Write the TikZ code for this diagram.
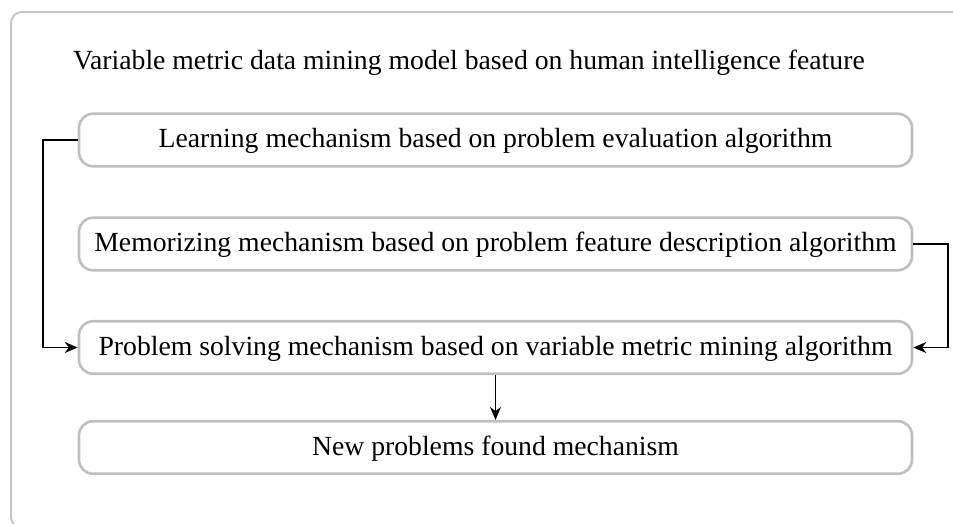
\documentclass[tikz,border=0pt]{standalone}
\usepackage{fontspec}
\setmainfont{Liberation Serif}
\usetikzlibrary{arrows.meta}
\begin{document}
\begin{tikzpicture}[x=1pt,y=-1pt,
  txt/.style={font=\fontsize{27.7}{32}\selectfont, inner sep=0pt},
  box/.style={txt, draw=black!25, line width=2.6pt, rounded corners=14pt,
    minimum width=833pt, minimum height=52.5pt, text height=19pt, text depth=4pt},
  conn/.style={draw=black, line width=1.6pt, -{Stealth[length=13pt,width=11pt]}}]
\useasboundingbox (0,0) rectangle (953,523);
\begin{scope}
\clip (0,0) rectangle (953,523);
\draw[draw=black!22, line width=2pt, rounded corners=11pt] (11,12) rectangle (1000,528);
\end{scope}
\node[txt, anchor=base west] (title) at (73,69) {Variable metric data mining model based on human intelligence feature};
\node[box] (b1) at (495.5,140) {Learning mechanism based on problem evaluation algorithm};
\node[box] (b2) at (495.5,244) {Memorizing mechanism based on problem feature description algorithm};
\node[box] (b3) at (495.5,347.5) {Problem solving mechanism based on variable metric mining algorithm};
\node[box] (b4) at (495.5,447.5) {New problems found mechanism};
\draw[conn] (b1.west) -- ++(-34.5,0) |- (b3.west);
\draw[conn] (b2.east) -- ++(34.5,0) |- (b3.east);
\draw[conn] (b3.south) -- (b4.north);
\end{tikzpicture}
\end{document}
